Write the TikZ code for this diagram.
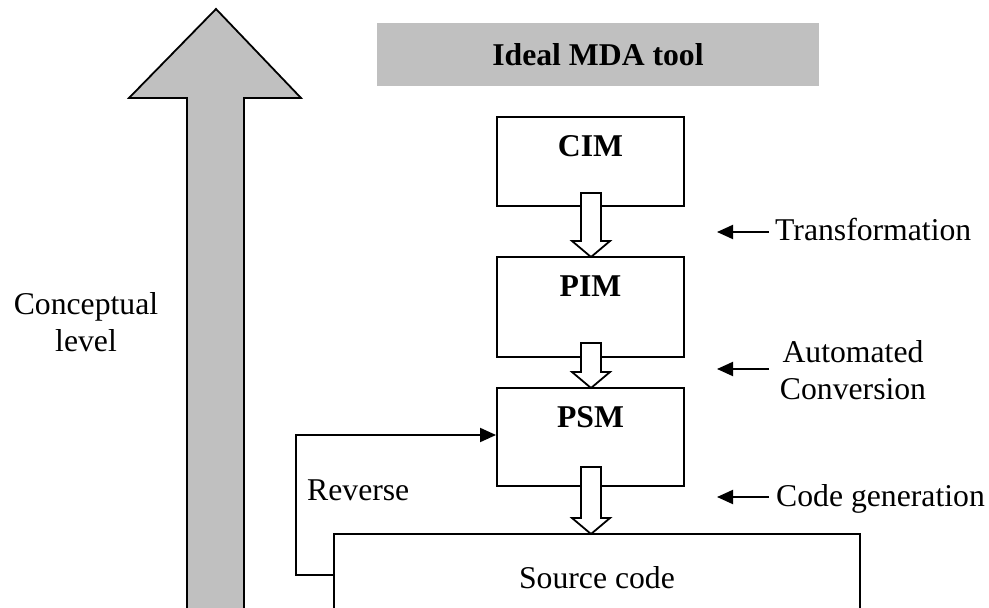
\documentclass[tikz,border=0pt]{standalone}
\usepackage{fontspec}
\setmainfont{Liberation Serif}
\usetikzlibrary{arrows.meta,calc}

\definecolor{panelgray}{HTML}{C0C0C0}

\tikzset{
  txt/.style={inner sep=0pt, font=\fontsize{31.7bp}{37bp}\selectfont},
  boldtxt/.style={txt, font=\fontsize{31.7bp}{37bp}\selectfont\bfseries},
  modelbox/.style={draw=black, line width=1.9bp, fill=white, minimum width=187bp, inner sep=0pt},
  blockarrow/.style={draw=black, line width=1.8bp, fill=white, line join=miter},
  pointer/.style={draw=black, line width=1.9bp, -{Triangle[length=16bp,width=14bp]}},
  bigarrow/.style={draw=black, line width=1.8bp, fill=panelgray, line join=miter}
}

% hollow downward block arrow: centre x, top of shaft, tip
\newcommand\blockdown[3]{%
  \draw[blockarrow] (#1-10,#2) -- (#1+10,#2) -- (#1+10,#3-16) -- (#1+19,#3-16)
    -- (#1,#3) -- (#1-19,#3-16) -- (#1-10,#3-16) -- cycle;}

\begin{document}
\begin{tikzpicture}[x=1bp, y=-1bp]
\useasboundingbox (0,0) rectangle (989,608);
\clip (0,0) rectangle (989,608);

% conceptual level arrow
\draw[bigarrow] (187,620) -- (187,98) -- (129,98) -- (216,9) -- (301,98)
  -- (244,98) -- (244,620) -- cycle;
\node[txt, align=center] (concept) at (86,322) {Conceptual\\level};

% title panel
\node[boldtxt, fill=panelgray, minimum width=442bp, minimum height=63bp] (title)
  at (598,54.5) {Ideal MDA tool};

% model boxes
\node[modelbox, minimum height=89bp] (cim) at (590.5,161.5) {};
\node[modelbox, minimum height=100bp] (pim) at (590.5,307) {};
\node[modelbox, minimum height=98bp] (psm) at (590.5,437) {};
\node[boldtxt, anchor=base] (cimlbl) at ([yshift=-40bp]cim.north) {CIM};
\node[boldtxt, anchor=base] (pimlbl) at ([yshift=-40bp]pim.north) {PIM};
\node[boldtxt, anchor=base] (psmlbl) at ([yshift=-40bp]psm.north) {PSM};

% source code box (runs past the lower edge)
\node[modelbox, minimum width=526bp, minimum height=88bp, txt] (src) at (597,578) {Source code};

% hollow arrows between the levels
\blockdown{591}{193}{257}
\blockdown{591}{343}{388}
\blockdown{591}{467}{534}

% step labels with pointers
\coordinate (p1) at (769,232);
\coordinate (p2) at (769,369);
\coordinate (p3) at (769,497);
\draw[pointer] (p1) -- ++(-52,0);
\draw[pointer] (p2) -- ++(-52,0);
\draw[pointer] (p3) -- ++(-52,0);
\node[txt, anchor=base west] (trans) at (775,241) {Transformation};
\node[txt, align=center] (auto) at (853,370) {Automated\\Conversion};
\node[txt, anchor=base west] (codegen) at (776,506) {Code generation};

% reverse engineering path
\coordinate (rtop) at (296,435);
\coordinate (rbot) at (296,575);
\draw[pointer] (src.west |- rbot) -- (rbot) -- (rtop) -- (psm.west |- rtop);
\node[txt, anchor=base west] (rev) at (307,500) {Reverse};
\end{tikzpicture}
\end{document}
